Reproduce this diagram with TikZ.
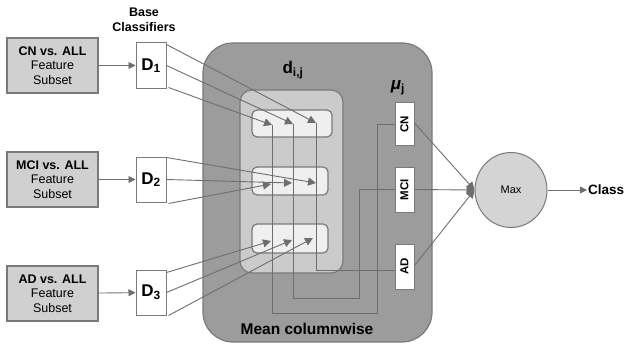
\documentclass[tikz,border=0pt]{standalone}
\usepackage{fontspec}
\setmainfont{Liberation Sans}
\usetikzlibrary{arrows.meta,shapes.geometric,calc}
\definecolor{ln}{HTML}{6E6E6E}
\definecolor{bd}{HTML}{7A7A7A}
\definecolor{fsfill}{HTML}{D0D0D0}
\definecolor{bigfill}{HTML}{9C9C9C}
\definecolor{innerfill}{HTML}{CBCBCB}
\definecolor{rowfill}{HTML}{EFEFEF}
\definecolor{maxfill}{HTML}{D4D4D4}
\begin{document}
\begin{tikzpicture}[x=1pt,y=-1pt,
  fsbox/.style={draw=bd,line width=1.2pt,fill=fsfill,minimum width=91pt,minimum height=55pt,inner sep=0pt,align=center,font=\fontsize{12.5}{14.5}\selectfont},
  dbox/.style={draw=bd,line width=1pt,fill=white,minimum width=30pt,minimum height=45pt,inner sep=0pt,font=\fontsize{17}{20}\selectfont\bfseries},
  mubox/.style={draw=bd,line width=1pt,fill=white,minimum width=19pt,inner sep=0pt,font=\fontsize{11.5}{13}\selectfont\bfseries},
  conn/.style={draw=ln,line width=0.9pt},
  arr/.style={conn,-{Triangle[length=8pt,width=8pt]}},
  sarr/.style={conn,-{Triangle[length=7pt,width=7pt]}}]
\useasboundingbox (0,0) rectangle (631,345);

% containers
\path[draw=bd,line width=1.2pt,fill=bigfill,rounded corners=30pt] (203,43) rectangle (432,342);
\path[draw=bd,line width=1.2pt,fill=innerfill,rounded corners=12pt] (240,90) rectangle (343,273);
\node[draw=bd,line width=1.2pt,fill=rowfill,rounded corners=5pt,minimum width=80pt,minimum height=27pt,inner sep=0pt] (r1) at (292,123.5) {};
\node[draw=bd,line width=1.2pt,fill=rowfill,rounded corners=5pt,minimum width=76pt,minimum height=28pt,inner sep=0pt] (r2) at (290,181) {};
\node[draw=bd,line width=1.2pt,fill=rowfill,rounded corners=5pt,minimum width=76pt,minimum height=29pt,inner sep=0pt] (r3) at (290,238.5) {};

% labels
\node[align=center,font=\fontsize{12.5}{15}\selectfont\bfseries] (base) at (144,19.5) {Base\\Classifiers};
\node[font=\fontsize{17}{20}\selectfont\bfseries] (dij) at (293,70) {d\textsubscript{i,j}};
\node[font=\fontsize{17}{20}\selectfont\bfseries] (mu) at (398,88) {\textit{μ}\textsubscript{j}};
\node[font=\fontsize{15.5}{18}\selectfont\bfseries] (mean) at (307,329) {Mean columnwise};

% feature subsets
\node[fsbox] (fs1) at (52.5,65.5) {\textbf{CN vs. ALL}\\Feature\\Subset};
\node[fsbox] (fs2) at (52.5,179.5) {\textbf{MCI vs. ALL}\\Feature\\Subset};
\node[fsbox] (fs3) at (52.5,293.5) {\textbf{AD vs. ALL}\\Feature\\Subset};

% base classifiers
\node[dbox] (D1) at (151,65.5) {D\textsubscript{1}};
\node[dbox] (D2) at (151,179.5) {D\textsubscript{2}};
\node[dbox] (D3) at (151,292.5) {D\textsubscript{3}};

\draw[sarr] (fs1) -- (D1);
\draw[sarr] (fs2) -- (D2);
\draw[sarr] (fs3) -- (D3);

% mu boxes
\node[mubox,minimum height=43pt] (CN) at (404.5,124) {\rotatebox{90}{CN}};
\node[mubox,minimum height=45pt] (MCI) at (404.5,189.5) {\rotatebox{90}{MCI}};
\node[mubox,minimum height=45pt] (AD) at (404.5,266.5) {\rotatebox{90}{AD}};

% arrow tips in rows
\coordinate (t11) at (272,125);
\coordinate (t12) at (293,124);
\coordinate (t13) at (316,123);
\coordinate (t21) at (271,184);
\coordinate (t22) at (292,183);
\coordinate (t23) at (316,183);
\coordinate (t31) at (271,241);
\coordinate (t32) at (292,240);
\coordinate (t33) at (313,238);

% column routing (drawn first so arrows sit on top)
\draw[conn] (t11) |- (377,313) |- (CN.west);
\draw[conn] (t12) |- (359,298) |- (MCI.west);
\draw[conn] (t13) |- ([yshift=-4pt]AD.west);

% D to rows
\draw[arr] ($(D1.north east)+(0,2)$) -- (t13);
\draw[arr] (D1.east) -- (t12);
\draw[arr] ($(D1.south east)+(2,-1)$) -- (t11);
\draw[arr] ($(D2.north east)+(0,1)$) -- (t23);
\draw[arr] (D2.east) -- (t22);
\draw[arr] ($(D2.south east)+(2,1)$) -- (t21);
\draw[arr] ($(D3.north east)+(0,3)$) -- (t31);
\draw[arr] (D3.east) -- (t32);
\draw[arr] ($(D3.south east)+(2,0)$) -- (t33);

% max
\node[ellipse,draw=bd,line width=1pt,fill=maxfill,minimum width=72pt,minimum height=75pt,inner sep=0pt,font=\fontsize{11}{13}\selectfont] (max) at (511,190) {Max};
\draw[arr] ([yshift=1pt]CN.east) -- (max.west);
\draw[arr] (MCI.east) -- (max.west);
\draw[arr] ([yshift=1pt]AD.east) -- (max.west);
\node[anchor=west,inner sep=1pt,font=\fontsize{13.5}{16}\selectfont\bfseries] (cls) at (587,190) {Class};
\draw[sarr] (max.east) -- (cls.west);
\end{tikzpicture}
\end{document}
